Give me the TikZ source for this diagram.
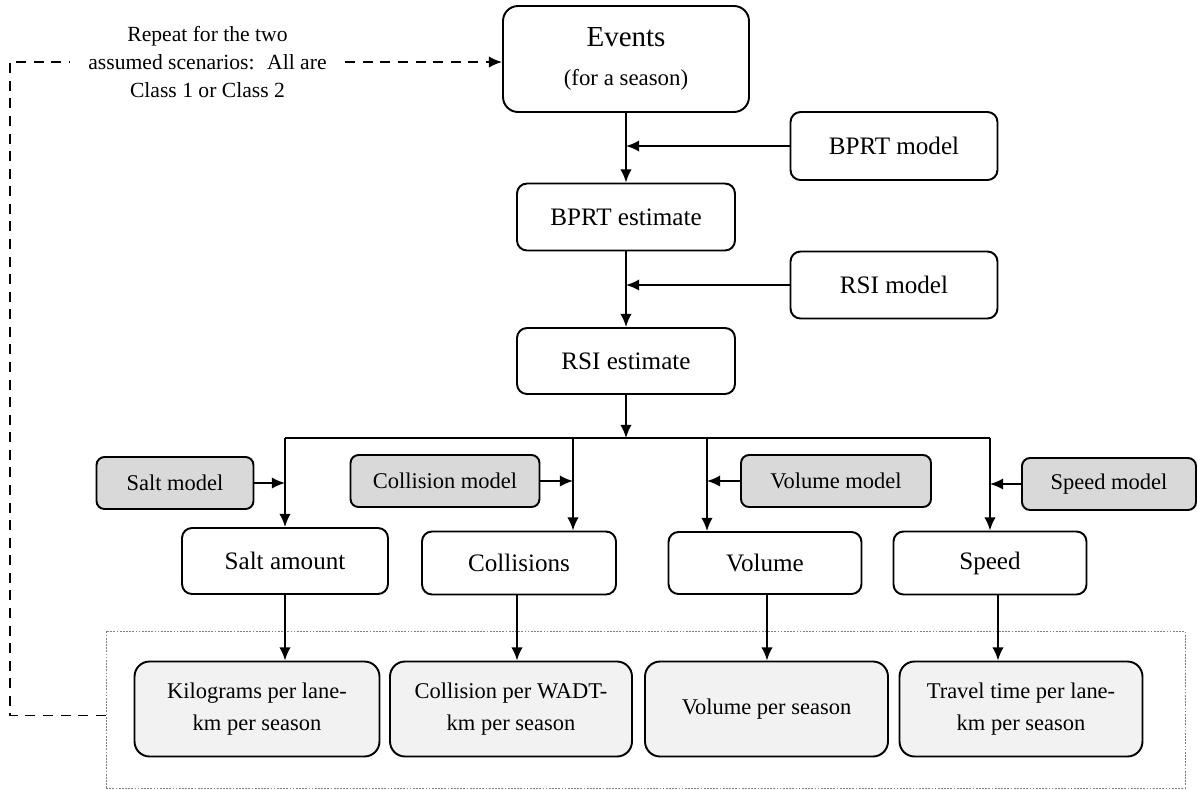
\documentclass[tikz,border=0pt]{standalone}
\usepackage{fontspec}
\setmainfont{Liberation Serif}
\usetikzlibrary{arrows.meta}
\definecolor{modelgray}{HTML}{D9D9D9}
\definecolor{outgray}{HTML}{F2F2F2}

\begin{document}
\begin{tikzpicture}[x=0.02cm,y=-0.02cm,
        >={Latex[length=7.5pt,width=6.5pt]},
        box/.style={draw,line width=1.1pt,rounded corners=0.2cm,font=\fontsize{14.3}{17}\selectfont},
        model/.style={box,fill=modelgray,rounded corners=0.16cm,font=\fontsize{12.8}{15}\selectfont,minimum height=1.04cm},
        result/.style={box,fill=outgray,rounded corners=0.3cm,align=center,font=\fontsize{12.8}{17.8}\selectfont,minimum width=4.86cm,minimum height=1.9cm},
        flow/.style={line width=1.1pt,->},
        fb/.style={line width=1.1pt,dash pattern=on 5.7pt off 4.3pt}]
        \useasboundingbox (0,0) rectangle (1198,789);

        % upper chain
        \node[box,rounded corners=0.3cm,align=center,minimum width=4.92cm,minimum height=2.12cm,font=\fontsize{13}{21}\selectfont] (ev) at (626,59) {{\fontsize{16.5}{21}\selectfont Events}\\[1pt](for a season)};
        \node[box,minimum width=4.14cm,minimum height=1.36cm] (bm) at (894,146) {BPRT model};
        \node[box,minimum width=4.36cm,minimum height=1.34cm] (be) at (626,217) {BPRT estimate};
        \node[box,minimum width=4.14cm,minimum height=1.34cm] (rm) at (894,285) {RSI model};
        \node[box,minimum width=4.36cm,minimum height=1.32cm] (re) at (626,361) {RSI estimate};
        \draw[flow] (ev.south) -- (be.north);
        \draw[flow] (bm.west) -- (bm.west -| ev.south);
        \draw[flow] (be.south) -- (re.north);
        \draw[flow] (rm.west) -- (rm.west -| be.south);

        % bus
        \coordinate (b1) at (285,438);
        \coordinate (b2) at (573,438);
        \coordinate (b3) at (707,438);
        \coordinate (b4) at (990,438);
        \draw[line width=1.1pt] (b1) -- (b4);
        \draw[flow] (re.south) -- (re.south |- b1);

        % models and outputs
        \node[model,minimum width=3.14cm] (sm) at (175,483) {Salt model};
        \node[model,minimum width=3.78cm] (cm) at (445,481) {Collision model};
        \node[model,minimum width=3.8cm] (vm) at (836,481) {Volume model};
        \node[model,minimum width=3.48cm] (spm) at (1109,484) {Speed model};
        \node[box,minimum width=4.12cm,minimum height=1.32cm] (sa) at (285,561) {Salt amount};
        \node[box,minimum width=3.88cm,minimum height=1.26cm] (co) at (519,563) {Collisions};
        \node[box,minimum width=3.86cm,minimum height=1.24cm] (vo) at (765,563) {Volume};
        \node[box,minimum width=3.86cm,minimum height=1.26cm] (sp) at (990,563) {Speed};
        \draw[flow] (b1) -- (b1 |- sa.north);
        \draw[flow] (b2) -- (b2 |- co.north);
        \draw[flow] (b3) -- (b3 |- vo.north);
        \draw[flow] (b4) -- (b4 |- sp.north);
        \draw[flow] (sm.east) -- (sm.east -| b1);
        \draw[flow] (cm.east) -- (cm.east -| b2);
        \draw[flow] (vm.west) -- (vm.west -| b3);
        \draw[flow] (spm.west) -- (spm.west -| b4);

        % results per season
        \node[draw=gray,line width=0.4pt,dash pattern=on 1pt off 0.8pt,minimum width=21.58cm,minimum height=3.14cm] (grp) at (645.5,709.5) {};
        \node[result,minimum width=4.9cm] (kg) at (257,709) {Kilograms per lane-\\km per season};
        \node[result,minimum width=4.84cm] (cp) at (511,709) {Collision per WADT-\\km per season};
        \node[result] (vp) at (766.5,709) {Volume per season};
        \node[result] (tt) at (1021,709) {Travel time per lane-\\km per season};
        \draw[flow] (sa.south) -- (sa.south |- kg.north);
        \draw[flow] ([xshift=-0.04cm]co.south) -- ([xshift=-0.04cm]co.south |- cp.north);
        \draw[flow] ([xshift=0.04cm]vo.south) -- ([xshift=0.04cm]vo.south |- vp.north);
        \draw[flow] ([xshift=0.16cm]sp.south) -- ([xshift=0.16cm]sp.south |- tt.north);

        % repeat loop
        \node[align=center,minimum width=5.5cm,inner xsep=0pt,font=\fontsize{12.3}{16.2}\selectfont] (note) at (207.5,62) {Repeat for the two\\assumed scenarios:~ All are\\Class 1 or Class 2};
        \draw[fb] ([yshift=-0.12cm]grp.west) -| (10,62) -- (note.west);
        \draw[fb,->] (note.east) -- (note.east -| ev.west);
    \end{tikzpicture}
\end{document}
